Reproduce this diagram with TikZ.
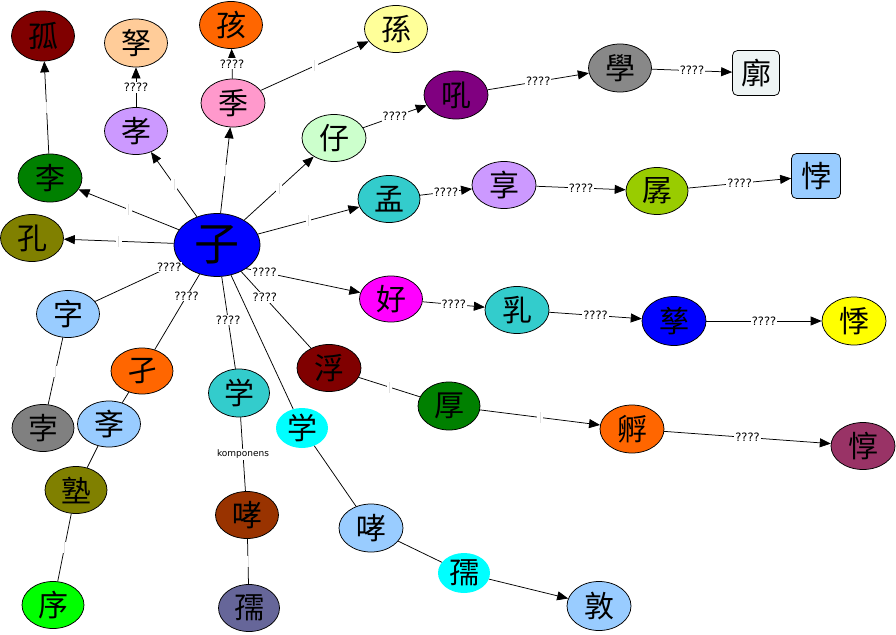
\documentclass[tikz,border=0pt]{standalone}
\usepackage{fontspec}
\setmainfont{DejaVu Sans}
\newfontfamily\cjk{Noto Sans CJK SC}
\usetikzlibrary{shapes.geometric,arrows.meta}
\definecolor{cBlue}{HTML}{0000FF}
\definecolor{cMaroon}{HTML}{800000}
\definecolor{cPeach}{HTML}{FFCC99}
\definecolor{cOrange}{HTML}{FF6600}
\definecolor{cLYellow}{HTML}{FFFF99}
\definecolor{cPink}{HTML}{FF99CC}
\definecolor{cLav}{HTML}{CC99FF}
\definecolor{cGreen}{HTML}{008000}
\definecolor{cOlive}{HTML}{808000}
\definecolor{cMint}{HTML}{CCFFCC}
\definecolor{cPurple}{HTML}{800080}
\definecolor{cGray}{HTML}{888888}
\definecolor{cPale}{HTML}{EEF4F4}
\definecolor{cTeal}{HTML}{33CCCC}
\definecolor{cLime}{HTML}{99CC00}
\definecolor{cSky}{HTML}{99CCFF}
\definecolor{cMagenta}{HTML}{FF00FF}
\definecolor{cYellow}{HTML}{FFFF00}
\definecolor{cPlum}{HTML}{993366}
\definecolor{cCyan}{HTML}{00FFFF}
\definecolor{cBrown}{HTML}{993300}
\definecolor{cSlate}{HTML}{666699}
\definecolor{cBright}{HTML}{00FF00}
\definecolor{cGrayB}{HTML}{808080}
\newcommand\tickr{\textcolor{black!12}{\rule{0.6pt}{11pt}}}
\begin{document}
\begin{tikzpicture}[x=1pt,y=-1pt,
  nd/.style={ellipse,draw=black,line width=0.75pt,inner sep=0pt,minimum width=63pt,minimum height=47pt,font=\cjk\fontsize{30}{30}\selectfont},
  nb/.style={ellipse,draw=none,inner sep=0pt,minimum width=52pt,minimum height=40pt,font=\cjk\fontsize{30}{30}\selectfont},
  rr/.style={rectangle,rounded corners=5pt,draw=black,line width=0.75pt,inner sep=0pt,minimum width=48pt,minimum height=45pt,font=\cjk\fontsize{30}{30}\selectfont},
  ed/.style={line width=0.75pt},
  ar/.style={ed,-{Triangle[length=11pt,width=9pt]}},
  lbl/.style={fill=white,inner sep=1pt,font=\fontsize{11.5}{12}\selectfont},
  kl/.style={fill=white,inner sep=1pt,font=\fontsize{9}{10}\selectfont},
  tk/.style={fill=white,inner xsep=2.5pt,inner ysep=0pt}
]
\useasboundingbox (0,0) rectangle (896,634);
% nodes
\node[nd,fill=cBlue,minimum width=86pt,minimum height=63pt,font=\cjk\fontsize{45}{45}\selectfont] (zi) at (217,245) {子};
\node[nd,fill=cMaroon,minimum height=50pt] (gu) at (43,36) {孤};
\node[nd,fill=cPeach,minimum height=48pt] (nu) at (136,43) {孥};
\node[nd,fill=cOrange] (hai) at (231,25) {孩};
\node[nd,fill=cLYellow] (sun) at (396,29) {孫};
\node[nd,fill=cPink,minimum width=64pt,minimum height=48pt] (ji) at (233,103) {季};
\node[nd,fill=cLav] (xiao) at (136,131) {孝};
\node[nd,fill=cGreen,minimum width=64pt,minimum height=48pt] (li) at (50,178) {李};
\node[nd,fill=cOlive] (kong) at (32,238) {孔};
\node[nd,fill=cMint,minimum width=64pt] (zai) at (334,138) {仔};
\node[nd,fill=cPurple,minimum width=64pt,minimum height=48pt] (hou) at (456,95) {吼};
\node[nd,fill=cGray,minimum height=48pt] (xue) at (620,68) {學};
\node[rr,fill=cPale,minimum width=47pt] (kuo) at (756,73) {廓};
\node[nd,fill=cTeal,minimum width=62pt] (meng) at (389,199) {孟};
\node[nd,fill=cLav,minimum width=64pt] (xiang) at (504,185) {享};
\node[nd,fill=cLime,minimum width=62pt] (chan) at (657,191) {孱};
\node[rr,fill=cSky,minimum width=49pt] (bei) at (816,176) {悖};
\node[nd,fill=cMagenta,minimum height=46pt] (hao) at (391,299) {好};
\node[nd,fill=cTeal,minimum width=64pt] (ru) at (517,310) {乳};
\node[nd,fill=cBlue,minimum width=64pt,minimum height=49pt] (zib) at (674,321) {孳};
\node[nd,fill=cYellow,minimum width=64pt,minimum height=48pt] (jib) at (854,321) {悸};
\node[nd,fill=cGreen,minimum width=62pt,minimum height=48pt] (houb) at (449,406) {厚};
\node[nd,fill=cOrange,minimum width=64pt,minimum height=48pt] (fu) at (632,429) {孵};
\node[nd,fill=cPlum,minimum width=64pt] (dun) at (863,446) {惇};
\node[nd,fill=cMaroon,minimum width=64pt] (fub) at (329,368) {浮};
\node[nd,fill=cTeal,minimum width=61pt,minimum height=48pt] (xueA) at (239,393) {学};
\node[nb,fill=cCyan] (xueB) at (302,428) {学};
\node[nd,fill=cBrown] (xiaoA) at (247,515) {哮};
\node[nd,fill=cSlate,minimum width=61pt] (ruA) at (249,608) {孺};
\node[nd,fill=cSky,minimum width=64pt,minimum height=48pt] (xiaoB) at (371,528) {哮};
\node[nb,fill=cCyan] (ruB) at (464,573) {孺};
\node[nd,fill=cSky,minimum width=64pt,minimum height=49pt] (dunB) at (599,606) {敦};
\node[nd,fill=cSky] (zic) at (68,314) {字};
\node[nd,fill=cOrange,minimum width=62pt,minimum height=46pt] (jie) at (142,371) {孑};
\node[nd,fill=cGrayB,minimum width=62pt] (bo) at (43,428) {孛};
\node[nd,fill=cSky,minimum height=46pt] (xueC) at (109,424) {斈};
\node[nd,fill=cOlive,minimum width=62pt] (shu) at (76,490) {塾};
\node[nd,fill=cBright,minimum width=62pt] (xu) at (53,605) {序};
% edges from the centre
\draw[ar] (zi) -- node[tk]{\tickr} (li);
\draw[ar] (zi) -- node[tk]{\tickr} (kong);
\draw[ar] (zi) -- node[tk]{\tickr} (xiao);
\draw[ar] (zi) -- node[tk]{\tickr} (ji);
\draw[ar] (zi) -- node[tk]{\tickr} (zai);
\draw[ar] (zi) -- node[tk]{\tickr} (meng);
\draw[ar] (zi.-39) -- node[lbl,pos=0.16]{????} (hao);
\draw[ed] (zi) -- node[lbl,pos=0.13]{????} (zic);
\draw[ed] (zi) -- node[lbl,pos=0.29]{????} (jie);
\draw[ed] (zi) -- node[lbl,pos=0.47]{????} (xueA);
\draw[ed] (zi) -- node[lbl,pos=0.34]{????} (fub);
\draw[ed] (zi) -- (xueB);
% upper chains
\draw[ar] (xiao) -- node[lbl]{????} (nu);
\draw[ar] (ji) -- node[lbl]{????} (hai);
\draw[ar] (ji) -- node[tk]{\tickr} (sun);
\draw[ar] (li) -- node[tk]{\tickr} (gu);
\draw[ar] (zai) -- node[lbl]{????} (hou);
\draw[ar] (hou) -- node[lbl]{????} (xue);
\draw[ar] (xue) -- node[lbl]{????} (kuo);
\draw[ar] (meng) -- node[lbl]{????} (xiang);
\draw[ar] (xiang) -- node[lbl]{????} (chan);
\draw[ar] (chan) -- node[lbl]{????} (bei);
% right chains
\draw[ar] (hao) -- node[lbl]{????} (ru);
\draw[ar] (ru) -- node[lbl]{????} (zib);
\draw[ar] (zib) -- node[lbl]{????} (jib);
\draw[ed] (fub) -- node[tk]{\tickr} (houb);
\draw[ar] (houb) -- node[tk]{\tickr} (fu);
\draw[ar] (fu) -- node[lbl]{????} (dun);
% lower chains
\draw[ed] (xueA) -- node[kl]{komponens} (xiaoA);
\draw[ed] (xiaoA) -- node[tk]{\tickr} (ruA);
\draw[ed] (xueB) -- (xiaoB);
\draw[ed] (xiaoB) -- (ruB);
\draw[ar] (ruB) -- (dunB);
\draw[ed] (zic) -- node[tk]{\tickr} (bo);
\draw[ed] (jie) -- (xueC);
\draw[ed] (xueC) -- (shu);
\draw[ed] (shu) -- node[tk]{\tickr} (xu);
\end{tikzpicture}
\end{document}
